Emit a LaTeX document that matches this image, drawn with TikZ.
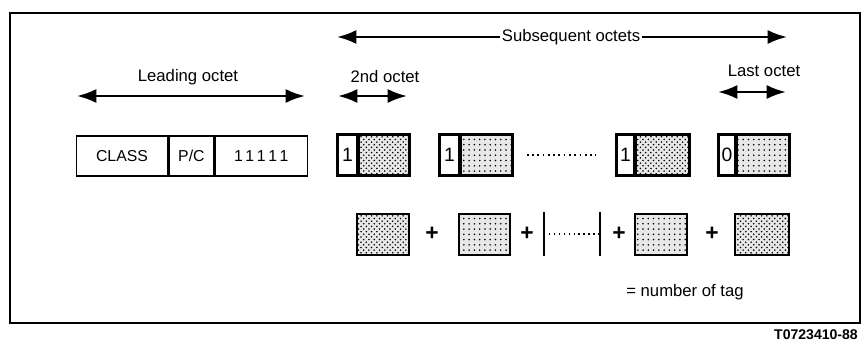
\documentclass[tikz,border=0pt]{standalone}
\usepackage{fontspec}
\setmainfont{Liberation Sans}
\usetikzlibrary{arrows.meta,patterns,positioning,calc}

\tikzset{
  dimarrow/.style={{Latex[length=11pt,width=8pt]}-{Latex[length=11pt,width=8pt]}, line width=1.4pt},
  field/.style={draw, line width=0.8pt, minimum height=0.8cm, inner sep=0pt, font=\fontsize{9}{10}\selectfont},
  flag/.style={draw, line width=0.8pt, minimum height=0.8cm, inner sep=0pt, font=\fontsize{11}{12}\selectfont},
  tagbits/.style={draw, line width=1.2pt, minimum height=0.8cm, inner sep=0pt, preaction={fill=gray!18}},
  lbl/.style={font=\fontsize{9.5}{10}\selectfont, inner sep=1pt},
  plus/.style={font=\bfseries\fontsize{13}{13}\selectfont, inner sep=0pt},
}

\begin{document}
\begin{tikzpicture}[x=0.02cm, y=-0.02cm]
    \useasboundingbox (0,0) rectangle (864,345);
    % ---------------------------------------------
    \draw[line width=1.2pt] (10,13) rectangle (860,323);

    % length arrows
    \coordinate (subL) at (337,37);
    \coordinate (subR) at (787,37);
    \draw[dimarrow] (subL) -- node[lbl, fill=white, pos=0.52] (sublbl) {Subsequent octets} (subR);
    \node[lbl] (leadlbl) at (188,77) {Leading octet};
    \coordinate (leadL) at (77,96);
    \coordinate (leadR) at (305,96);
    \draw[dimarrow] (leadL) -- (leadR);
    \node[lbl] (seclbl) at (385,77) {2nd octet};
    \coordinate (secL) at (338,96);
    \coordinate (secR) at (407,96);
    \draw[dimarrow] (secL) -- (secR);
    \node[lbl] (lastlbl) at (764,71) {Last octet};
    \coordinate (lastL) at (718,92);
    \coordinate (lastR) at (786,92);
    \draw[dimarrow] (lastL) -- (lastR);

    % leading octet
    \node[field, minimum width=1.82cm] (class) at (122,156) {CLASS};
    \node[field, minimum width=0.9cm, right=0pt of class] (pc) {P/C};
    \node[field, minimum width=1.84cm, right=0pt of pc] (ones) {1\,1\,1\,1\,1};

    % subsequent octets
    \node[flag, minimum width=0.38cm] (f2) at (347.5,155) {1};
    \node[tagbits, minimum width=1.0cm, right=0pt of f2, pattern=crosshatch dots] (s2) {};
    \node[flag, minimum width=0.38cm] (f3) at (449.5,155) {1};
    \node[tagbits, minimum width=1.02cm, right=0pt of f3, pattern=dots] (s3) {};
    \node[flag, minimum width=0.34cm] (f4) at (625.5,155) {1};
    \node[tagbits, minimum width=1.06cm, right=0pt of f4, pattern=crosshatch dots] (s4) {};
    \node[flag, minimum width=0.32cm] (f5) at (727,155) {0};
    \node[tagbits, minimum width=1.04cm, right=0pt of f5, pattern=dots] (s5) {};
    \draw[dotted, line width=1pt, shorten <=0.28cm, shorten >=0.4cm] (s3.east) -- (f4.west);
    \draw[line width=1.2pt] (f2.north west) rectangle (s2.south east);
    \draw[line width=1.2pt] (f3.north west) rectangle (s3.south east);
    \draw[line width=1.2pt] (f4.north west) rectangle (s4.south east);
    \draw[line width=1.2pt] (f5.north west) rectangle (s5.south east);

    % number of tag
    \node[tagbits, minimum width=1.04cm, minimum height=0.82cm, pattern=crosshatch dots] (t1) at (383,234.5) {};
    \node[plus] (p1) at (432,234) {+};
    \node[tagbits, minimum width=1.02cm, minimum height=0.82cm, pattern=dots] (t2) at (484.5,234.5) {};
    \node[plus] (p2) at (527,234) {+};
    \coordinate (b1t) at (544,212);
    \coordinate (b1b) at (544,256);
    \coordinate (b2t) at (600,212);
    \coordinate (b2b) at (600,256);
    \draw[line width=1.2pt] (b1t) -- (b1b);
    \draw[line width=1.2pt] (b2t) -- (b2b);
    \draw[dotted, line width=0.8pt] ($(b1t)!0.5!(b1b)$) -- ($(b2t)!0.5!(b2b)$);
    \node[plus] (p3) at (619,234) {+};
    \node[tagbits, minimum width=1.04cm, minimum height=0.82cm, pattern=dots] (t3) at (661,234.5) {};
    \node[plus] (p4) at (712,234) {+};
    \node[tagbits, minimum width=1.08cm, minimum height=0.82cm, pattern=crosshatch dots] (t4) at (762,234.5) {};
    \node[lbl] (eqlbl) at (685,292) {= number of tag};

    \node[font=\bfseries\fontsize{8}{9}\selectfont, inner sep=0pt] (figid) at (816,335) {T0723410-88};
  \end{tikzpicture}
\end{document}
